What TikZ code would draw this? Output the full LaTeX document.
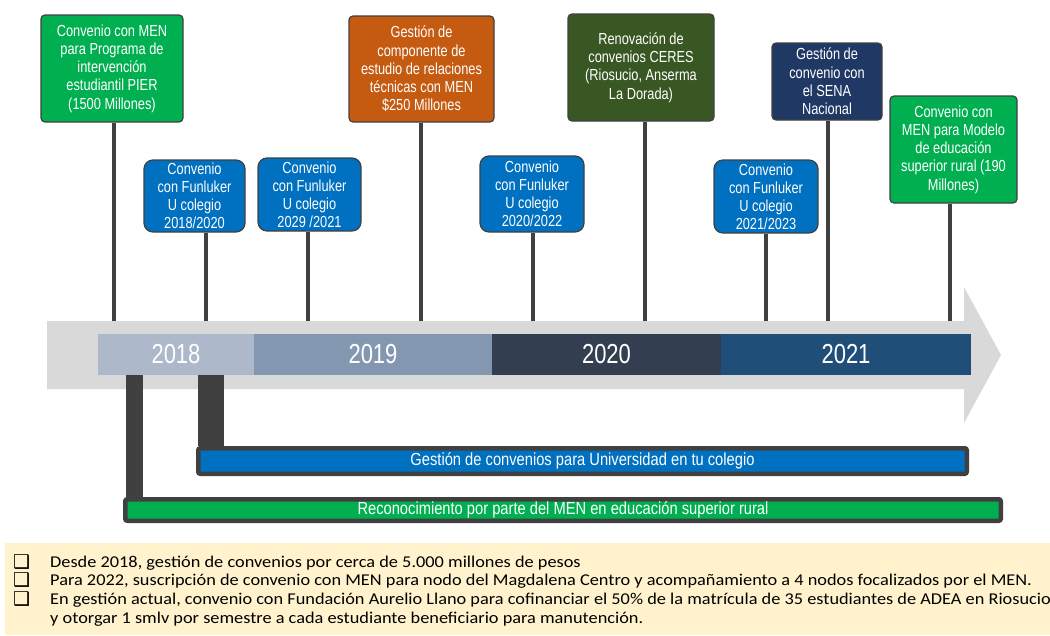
\documentclass[tikz,border=0pt]{standalone}
\usepackage{fontspec}
\newfontfamily\narfont[FakeStretch=0.8]{Liberation Sans}
\newfontfamily\barfont[FakeStretch=0.84]{Liberation Sans}
\newfontfamily\notefont[FakeStretch=1.11]{Carlito}
\newfontfamily\symfont{DejaVu Sans}
\usetikzlibrary{calc}
\definecolor{gA}{HTML}{00B050}
\definecolor{orA}{HTML}{C55A11}
\definecolor{dgA}{HTML}{385723}
\definecolor{nvA}{HTML}{1F3864}
\definecolor{fbA}{HTML}{0070C0}
\definecolor{lineA}{HTML}{404040}
\definecolor{bandA}{HTML}{D9D9D9}
\definecolor{y18}{HTML}{ADB9CA}
\definecolor{y19}{HTML}{8497B0}
\definecolor{y20}{HTML}{333F50}
\definecolor{y21}{HTML}{1F4E79}
\definecolor{noteA}{HTML}{FFF2CC}
\begin{document}
\begin{tikzpicture}[x=1pt,y=-1pt,
  box/.style={draw=lineA, line width=1.2pt, text=white, align=center, inner sep=0pt,
    font=\narfont\fontsize{16}{18.3}\selectfont, rounded corners=4pt},
  fbox/.style={box, fill=fbA, rounded corners=9pt, font=\narfont\fontsize{16}{18}\selectfont},
  stem/.style={draw=lineA, line width=4pt},
  conn/.style={draw=lineA},
  yr/.style={inner sep=0pt, text=white, font=\narfont\fontsize{27.5}{27.5}\selectfont, minimum height=41pt},
  barbox/.style={draw=lineA, line width=4.5pt, rounded corners=2pt, inner sep=0pt, text=white,
    font=\barfont\fontsize{17.5}{17.5}\selectfont},
  note/.style={anchor=base west, inner sep=0pt, font=\notefont\fontsize{16.5}{18.5}\selectfont, text=black},
  chk/.style={anchor=base west, inner sep=0pt, font=\symfont\fontsize{19}{19}\selectfont, text=black}
]
\useasboundingbox (0,0) rectangle (1050,635);
% band arrow
\fill[bandA] (47,321) -- (964,321) -- (964,287) -- (1001,355) -- (964,423) -- (964,389) -- (47,389) -- cycle;
% year segments
\node[yr, fill=y18, minimum width=156pt] (t18) at (176,354.5) {2018};
\node[yr, fill=y19, minimum width=238pt] (t19) at (373,354.5) {2019};
\node[yr, fill=y20, minimum width=229pt] (t20) at (606.5,354.5) {2020};
\node[yr, fill=y21, minimum width=250pt] (t21) at (846,354.5) {2021};
% boxes
\node[box, fill=gA, minimum width=142pt, minimum height=107pt] (g1) at (112,68.5)
  {Convenio con MEN\\para Programa de\\intervención\\estudiantil PIER\\(1500 Millones)};
\node[fbox, minimum width=101pt, minimum height=72pt] (f1) at (194.5,196)
  {Convenio\\con Funluker\\U colegio\\2018/2020};
\node[fbox, minimum width=103pt, minimum height=73pt] (f2) at (309.5,194.5)
  {Convenio\\con Funluker\\U colegio\\2029 /2021};
\node[box, fill=orA, minimum width=145pt, minimum height=106pt] (o1) at (421.5,69)
  {Gestión de\\componente de\\estudio de relaciones\\técnicas con MEN\\\$250 Millones};
\node[fbox, minimum width=104pt, minimum height=76pt] (f3) at (532,194)
  {Convenio\\con Funluker\\U colegio\\2020/2022};
\node[box, fill=dgA, minimum width=146pt, minimum height=107pt] (d1) at (641,67.5)
  {Renovación de\\convenios CERES\\(Riosucio, Anserma\\La Dorada)};
\node[fbox, minimum width=104pt, minimum height=73pt] (f4) at (766,196.5)
  {Convenio\\con Funluker\\U colegio\\2021/2023};
\node[box, fill=nvA, minimum width=110pt, minimum height=77pt] (n1) at (827,81.5)
  {Gestión de\\convenio con\\el SENA\\Nacional};
\node[box, fill=gA, minimum width=127pt, minimum height=107pt] (g2) at (953.5,149.5)
  {Convenio con\\MEN para Modelo\\de educación\\superior rural (190\\Millones)};
% stems
\coordinate (s1) at (114,321);
\coordinate (s2) at (206,321);
\coordinate (s3) at (308,321);
\coordinate (s4) at (421,321);
\coordinate (s5) at (533,321);
\coordinate (s6) at (645,321);
\coordinate (s7) at (766,321);
\coordinate (s8) at (828,321);
\coordinate (s9) at (950,321);
\draw[stem] (g1.south -| s1) -- (s1);
\draw[stem] (f1.south -| s2) -- (s2);
\draw[stem] (f2.south -| s3) -- (s3);
\draw[stem] (o1.south -| s4) -- (s4);
\draw[stem] (f3.south -| s5) -- (s5);
\draw[stem] (d1.south -| s6) -- (s6);
\draw[stem] (f4.south -| s7) -- (s7);
\draw[stem] (n1.south -| s8) -- (s8);
\draw[stem] (g2.south -| s9) -- (s9);
% bars
\node[barbox, fill=fbA, minimum width=768.5pt, minimum height=25.5pt] (ub) at (582.5,461)
  {Gestión de convenios para Universidad en tu colegio};
\node[barbox, fill=gA, minimum width=875.5pt, minimum height=21.5pt] (gb) at (563,510)
  {Reconocimiento por parte del MEN en educación superior rural};
\coordinate (c1) at (134.5,0);
\coordinate (c2) at (211,0);
\draw[conn, line width=17pt] (t18.south -| c1) -- (gb.north -| c1);
\draw[conn, line width=26pt] (t18.south -| c2) -- (ub.north -| c2);
% notes
\fill[noteA] (5,543) rectangle (1050,635);
\node[chk] (k1) at (13,568) {❑};
\node[chk] (k2) at (13,586.5) {❑};
\node[chk] (k3) at (13,605) {❑};
\node[note] (l1) at (50,567) {Desde 2018, gestión de convenios por cerca de 5.000 millones de pesos};
\node[note] (l2) at (50,585.5) {Para 2022, suscripción de convenio con MEN para nodo del Magdalena Centro y acompañamiento a 4 nodos focalizados por el MEN.};
\node[note] (l3) at (50,604) {En gestión actual, convenio con Fundación Aurelio Llano para cofinanciar el 50\% de la matrícula de 35 estudiantes de ADEA en Riosucio};
\node[note] (l4) at (50,623) {y otorgar 1 smlv por semestre a cada estudiante beneficiario para manutención.};
\end{tikzpicture}
\end{document}
